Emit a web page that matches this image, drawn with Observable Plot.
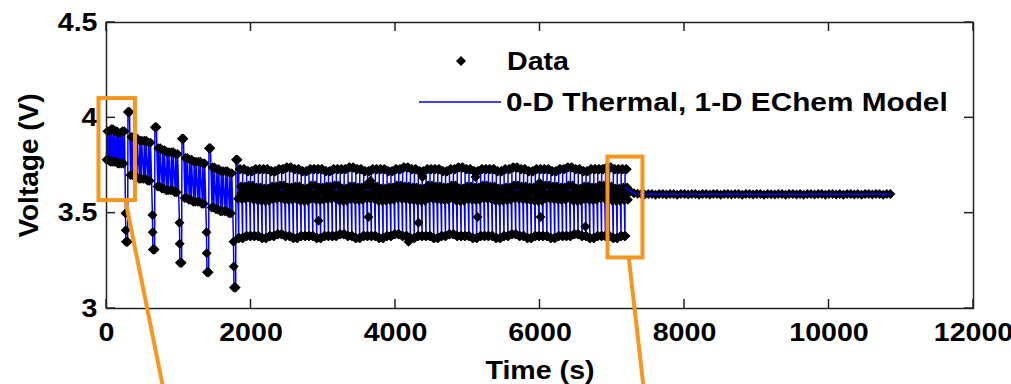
<!DOCTYPE html>
<html><head><meta charset="utf-8">
<script src="https://cdn.jsdelivr.net/npm/d3@7"></script>
<script src="https://cdn.jsdelivr.net/npm/@observablehq/plot@0.6"></script>
<style>
body{margin:0;background:#fff;}
#wrap{position:relative;width:1011px;height:384px;overflow:hidden;}
</style></head><body><div id="wrap"></div>
<script>
(function(){
// ---------- axes ----------
const xTicks = [0, 2000, 4000, 6000, 8000, 10000, 12000];
const yTicks = [3, 3.5, 4, 4.5];
const xLabel = "Time (s)";
const yLabel = "Voltage (V)";
const seriesNames = ["Data", "0-D Thermal, 1-D EChem Model"];

// ---------- early pulse groups (cycles of two sub-pulses) ----------
const earlyT    = [0,52,104,156,208, 330,390,450,510,570, 705,765,825,885,945, 1080,1140,1200,1260,1320, 1455,1515,1575,1635,1695];
const earlyHi   = [3.93,3.94,3.93,3.92,3.93, 3.90,3.89,3.88,3.88,3.87, 3.84,3.83,3.82,3.82,3.81, 3.79,3.78,3.77,3.77,3.76, 3.74,3.73,3.72,3.72,3.71];
const earlyMidA = [3.87,3.86,3.86,3.85,3.85, 3.82,3.81,3.80,3.80,3.79, 3.76,3.75,3.74,3.74,3.73, 3.71,3.70,3.69,3.69,3.68, 3.66,3.65,3.64,3.64,3.63];
const earlyMidB = [3.82,3.81,3.81,3.80,3.80, 3.76,3.75,3.74,3.74,3.73, 3.70,3.69,3.68,3.68,3.67, 3.65,3.64,3.63,3.63,3.62, 3.60,3.59,3.58,3.58,3.57];
const earlyLo   = [3.78,3.77,3.77,3.76,3.76, 3.70,3.69,3.68,3.68,3.67, 3.64,3.63,3.62,3.62,3.61, 3.58,3.57,3.56,3.56,3.55, 3.53,3.52,3.51,3.51,3.50];
// sample offsets within a cycle: measured points / model vertices
const earlyDataOff  = [1, 13, 27, 39];
const earlyDataKey  = ["lo","hi","lo","hi"];
const earlyModelOff = [0, 6, 13, 19, 26, 32, 39, 45];
const earlyModelKey = ["midB","lo","hi","midA","midB","lo","hi","midA"];

// ---------- large pulses ----------
const spikeT  = [263, 636, 1010, 1384, 1758];
const spikeS1 = [3.50, 3.49, 3.45, 3.40, 3.35];
const spikeS2 = [3.41, 3.40, 3.34, 3.29, 3.22];
const spikeLo = [3.35, 3.31, 3.24, 3.19, 3.11];
const spikeHi = [4.03, 3.95, 3.89, 3.84, 3.78];
const spikeDataOff  = [0, 3, 6, 18, 30, 34, 44, 55];
const spikeDataKey  = ["s1","s2","lo","lo","lo","hi","hi","hi"];
const spikeModelOff = [0, 6, 30, 34, 55];
const spikeModelKey = ["s1","lo","lo","hi","hi"];

// ---------- charge-sustaining cycles (two sub-pulses each) ----------
const flatT = [1820,1928,2036,2144,2252,2360,2468,2576,2684,2792,2900,3008,3116,3224,3332,3440,3548,3656,3764,3872,3980,4088,4196,4304,4412,4520,4628,4736,4844,4952,5060,5168,5276,5384,5492,5600,5708,5816,5924,6032,6140,6248,6356,6464,6572,6680,6788,6896,7004,7112];
const flatHi = [3.73,3.72,3.73,3.73,3.72,3.73,3.74,3.73,3.72,3.73, 3.73,3.72,3.73,3.73,3.74,3.73,3.72,3.73,3.73,3.72, 3.73,3.74,3.73,3.72,3.73,3.73,3.72,3.73,3.74,3.73, 3.72,3.73,3.73,3.72,3.73,3.74,3.73,3.72,3.73,3.73, 3.72,3.73,3.74,3.73,3.72,3.73,3.73,3.74,3.73,3.73];
const flatMidA = [3.64,3.645,3.635,3.63,3.64,3.645,3.635,3.64,3.63,3.645, 3.635,3.64,3.645,3.63,3.64,3.635,3.645,3.64,3.63,3.635, 3.645,3.64,3.635,3.63,3.645,3.64,3.635,3.645,3.63,3.64, 3.635,3.645,3.64,3.63,3.635,3.645,3.64,3.635,3.63,3.645, 3.64,3.635,3.645,3.63,3.64,3.635,3.645,3.64,3.63,3.635];
const flatMidC = [3.605,3.61,3.60,3.605,3.61,3.60,3.605,3.61,3.605,3.60, 3.61,3.605,3.60,3.605,3.61,3.605,3.60,3.61,3.605,3.60, 3.605,3.61,3.60,3.605,3.61,3.605,3.60,3.61,3.605,3.60, 3.605,3.61,3.60,3.605,3.61,3.60,3.605,3.61,3.605,3.60, 3.61,3.605,3.60,3.605,3.61,3.605,3.60,3.61,3.605,3.60];
const flatMidB = [3.575,3.58,3.57,3.565,3.575,3.58,3.57,3.575,3.565,3.58, 3.57,3.575,3.58,3.565,3.575,3.57,3.58,3.575,3.565,3.57, 3.58,3.575,3.57,3.565,3.58,3.575,3.57,3.58,3.565,3.575, 3.57,3.58,3.575,3.565,3.57,3.58,3.575,3.57,3.565,3.58, 3.575,3.57,3.58,3.565,3.575,3.57,3.58,3.575,3.565,3.57];
const flatLo = [3.37,3.38,3.38,3.37,3.38,3.39,3.38,3.37,3.38,3.38, 3.37,3.38,3.38,3.39,3.38,3.37,3.38,3.38,3.37,3.38, 3.39,3.38,3.37,3.38,3.38,3.37,3.38,3.39,3.38,3.38, 3.37,3.38,3.38,3.37,3.38,3.39,3.38,3.37,3.38,3.38, 3.37,3.38,3.38,3.39,3.38,3.37,3.38,3.38,3.37,3.38];
const flatDataOff  = [0,4,10,16,22,28,34,40,45,50, 54,58,64,70,76,82,88,94,99,104];
const flatDataKey  = ["midB","lo","lo","lo","hi","hi","hi","midA","midC","midB",
                      "midB","lo","lo","lo","hi","hi","hi","midA","midC","midB"];
const flatModelOff = [0,10,11,12, 54,64,65,66];
const flatModelKey = ["midB","lo","hi","midA","midB","lo","hi","midA"];

// ---------- rest period ----------
const tailT = [7250,7300,7350,7400,7450,7500,7550,7600,7650,7700,
  7750,7800,7850,7900,7950,8000,8050,8100,8150,8200,
  8250,8300,8350,8400,8450,8500,8550,8600,8650,8700,
  8750,8800,8850,8900,8950,9000,9050,9100,9150,9200,
  9250,9300,9350,9400,9450,9500,9550,9600,9650,9700,
  9750,9800,9850,9900,9950,10000,10050,10100,10150,10200,
  10250,10300,10350,10400,10450,10500,10550,10600,10650,10700,
  10750,10800,10850];
const tailV = [3.615,3.605,3.602,3.600,3.598,3.600,3.600,3.597,3.600,3.600,
  3.598,3.600,3.600,3.596,3.600,3.600,3.598,3.600,3.600,3.597,
  3.600,3.600,3.598,3.600,3.600,3.596,3.600,3.600,3.598,3.600,
  3.600,3.597,3.600,3.600,3.598,3.600,3.600,3.596,3.600,3.599,
  3.598,3.600,3.600,3.597,3.600,3.600,3.598,3.600,3.596,3.600,
  3.600,3.598,3.600,3.600,3.597,3.600,3.600,3.598,3.600,3.596,
  3.600,3.600,3.598,3.600,3.597,3.600,3.600,3.598,3.600,3.600,
  3.597,3.600,3.600];

// ---------- scattered measurement points ----------
const outT = [3654, 3626, 4318, 4180, 4373, 5107, 5135, 5993, 6007, 6629, 2934];
const outV = [3.67, 3.48, 3.45, 3.35, 3.69, 3.69, 3.48, 3.66, 3.48, 3.43, 3.46];

// ---------- zoom annotations ----------
const boxX1 = [-104, 6941];
const boxX2 = [401, 7425];
const boxY1 = [4.101, 3.794];
const boxY2 = [3.566, 3.265];
const linkX1 = [263, 7229];
const linkY1 = [3.566, 3.265];
const linkX2 = [797, 7442];
const linkY2 = [2.559, 2.559];

// ---------- build tables ----------
function addCycles(T, levels, offsets, keys, out) {
  T.forEach((t, i) => offsets.forEach((o, j) => out.push({t: t + o, v: levels[keys[j]][i]})));
}
const earlyLv = {hi: earlyHi, midA: earlyMidA, midB: earlyMidB, lo: earlyLo};
const spikeLv = {s1: spikeS1, s2: spikeS2, lo: spikeLo, hi: spikeHi};
const flatLv  = {hi: flatHi, midA: flatMidA, midB: flatMidB, midC: flatMidC, lo: flatLo};

const dataPts = [];
addCycles(earlyT, earlyLv, earlyDataOff, earlyDataKey, dataPts);
addCycles(spikeT, spikeLv, spikeDataOff, spikeDataKey, dataPts);
addCycles(flatT, flatLv, flatDataOff, flatDataKey, dataPts);
tailT.forEach((t, i) => dataPts.push({t, v: tailV[i]}));
outT.forEach((t, i) => dataPts.push({t, v: outV[i]}));

const model = [];
addCycles(earlyT, earlyLv, earlyModelOff, earlyModelKey, model);
addCycles(spikeT, spikeLv, spikeModelOff, spikeModelKey, model);
addCycles(flatT, flatLv, flatModelOff, flatModelKey, model);
tailT.forEach((t, i) => model.push({t, v: tailV[i]}));
model.sort((a, b) => a.t - b.t);
// cycling part sits beneath the dense measurement bands; the rest period line shows on top
const restStart = model.findIndex(d => d.t >= tailT[0]);
const modelCycling = model.slice(0, restStart);
const modelRest = model.slice(restStart - 1);

const boxes = boxX1.map((x, i) => ({x1: x, x2: boxX2[i], y1: boxY1[i], y2: boxY2[i]}));
const links = linkX1.map((x, i) => ({x1: x, y1: linkY1[i], x2: linkX2[i], y2: linkY2[i]}));

const FONT = "'Liberation Sans', Arial, sans-serif";
const FS = 26;
const ORANGE = "#f7961e";
const BLUE = "#0000ff";

const chart = Plot.plot({
  width: 1011, height: 384,
  marginLeft: 106, marginRight: 38, marginTop: 22, marginBottom: 76,
  style: {fontFamily: FONT, fontWeight: "bold", fontSize: FS + "px", color: "#000", background: "#fff", overflow: "visible"},
  x: {domain: [0, 12000]},
  y: {domain: [3, 4.5]},
  marks: [
    Plot.line(modelCycling, {x: "t", y: "v", stroke: BLUE, strokeWidth: 1.5}),
    Plot.dot(dataPts, {x: "t", y: "v", symbol: "diamond2", r: 4.5, fill: "#000", stroke: "none"}),
    Plot.line(modelRest, {x: "t", y: "v", stroke: BLUE, strokeWidth: 1.5}),
    Plot.frame({stroke: "#222", strokeWidth: 1.5}),
    Plot.axisX({ticks: xTicks, tickSize: 0, tickPadding: 14, fontSize: FS, fontWeight: "bold", tickFormat: d => String(d), label: null}),
    Plot.axisY({ticks: yTicks, tickSize: 0, tickPadding: 9, fontSize: FS, fontWeight: "bold", tickFormat: d => String(d), label: null}),
    Plot.text([xLabel], {text: d => d, frameAnchor: "bottom", textAnchor: "middle", lineAnchor: "middle", dy: 62, fontSize: FS, fontWeight: "bold"}),
    Plot.text([yLabel], {text: d => d, frameAnchor: "left", textAnchor: "middle", lineAnchor: "middle", dx: -77, rotate: -90, fontSize: 28, fontWeight: "bold", className: "ylab"}),
    Plot.rect(boxes, {x1: "x1", x2: "x2", y1: "y1", y2: "y2", fill: "none", stroke: ORANGE, strokeWidth: 4}),
    Plot.link(links, {x1: "x1", y1: "y1", x2: "x2", y2: "y2", stroke: ORANGE, strokeWidth: 4})
  ]
});
document.getElementById("wrap").appendChild(chart);

// inward ticks on all four sides
const sx = chart.scale("x"), sy = chart.scale("y");
const svg = d3.select(chart);
const yTop = sy.apply(4.5), yBot = sy.apply(3), xLeft = sx.apply(0), xRight = sx.apply(12000);
const TL = 9;
const tg = svg.append("g").attr("stroke", "#222").attr("stroke-width", 1.5);
xTicks.forEach(v => {
  const X = sx.apply(v);
  tg.append("line").attr("x1", X).attr("x2", X).attr("y1", yBot).attr("y2", yBot - TL);
  tg.append("line").attr("x1", X).attr("x2", X).attr("y1", yTop).attr("y2", yTop + TL);
});
yTicks.forEach(v => {
  const Y = sy.apply(v);
  tg.append("line").attr("x1", xLeft).attr("x2", xLeft + TL).attr("y1", Y).attr("y2", Y);
  tg.append("line").attr("x1", xRight).attr("x2", xRight - TL).attr("y1", Y).attr("y2", Y);
});

// legend (inside the plot frame)
const lg = svg.append("g").attr("font-family", FONT).attr("font-weight", "bold").attr("font-size", FS).attr("text-anchor", "start");
lg.append("path").attr("d", d3.symbol(d3.symbolDiamond2, 4.5 * 4.5 * Math.PI)()).attr("transform", "translate(461,61)").attr("fill", "#000");
lg.append("text").attr("class", "lg0").attr("x", 507).attr("y", 61).attr("dy", "0.36em").attr("text-anchor", "start").text(seriesNames[0]);
lg.append("line").attr("x1", 419).attr("x2", 501).attr("y1", 102).attr("y2", 102).attr("stroke", BLUE).attr("stroke-width", 1.5);
lg.append("text").attr("class", "lg1").attr("x", 506).attr("y", 102).attr("dy", "0.36em").attr("text-anchor", "start").text(seriesNames[1]);

// the source figure's lettering is slightly wider than Arial (rotated label excluded)
svg.selectAll("text").each(function() {
  if (this.closest(".ylab")) return;
  const S = this.classList.contains("lg1") ? 1.145 : 1.1;
  const L = this.getComputedTextLength();
  this.setAttribute("textLength", L * S);
  this.setAttribute("lengthAdjust", "spacingAndGlyphs");
});
})();
</script>
</body></html>
